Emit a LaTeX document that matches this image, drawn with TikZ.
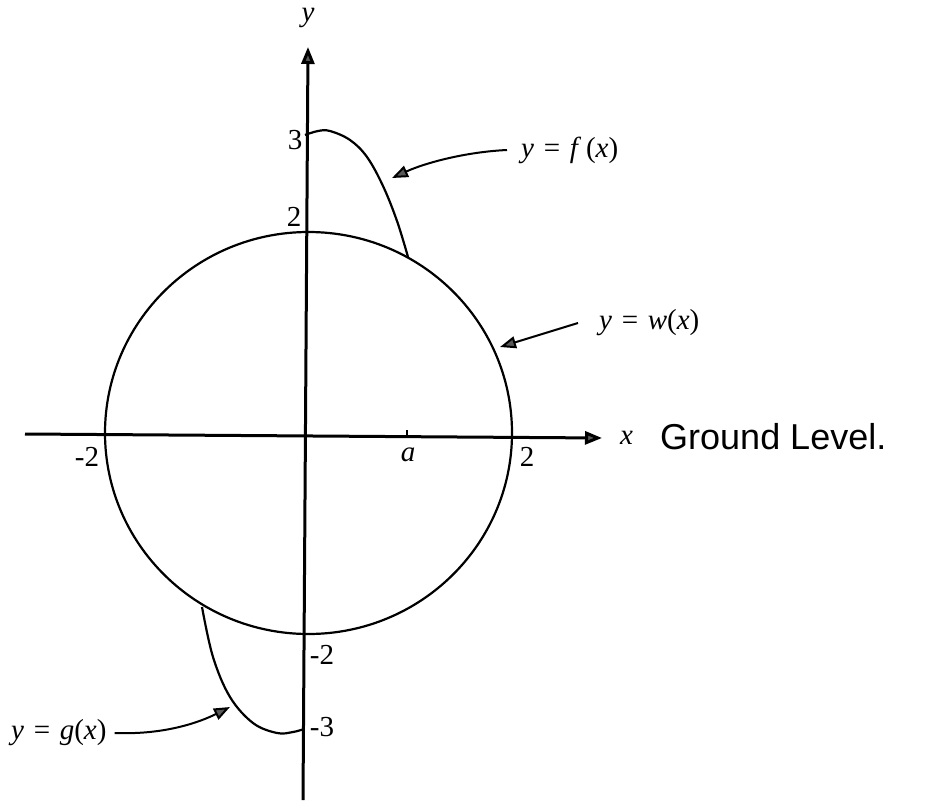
\documentclass[tikz,border=0pt]{standalone}
\usepackage{fontspec}
\setmainfont{Liberation Serif}
\newfontfamily\handfont{Liberation Sans}
\usetikzlibrary{arrows.meta}
\begin{document}
\begin{tikzpicture}[x=1pt,y=-1pt,
  lbl/.style={font=\fontsize{29}{34}\selectfont, inner sep=0pt},
  axisline/.style={line width=3pt, -{Triangle[length=17pt,width=13pt,fill=black!65]}},
  curveline/.style={line width=2.2pt},
  ptr/.style={line width=2pt, -{Triangle[length=16pt,width=12pt,fill=black!65]}},
]
\useasboundingbox (0,0) rectangle (941,802);
% axes
\coordinate (xs) at (25,434);
\coordinate (xe) at (602,438);
\coordinate (ys) at (303,800);
\coordinate (ye) at (308,47);
\draw[axisline] (xs) -- (xe);
\draw[axisline] (ys) -- (ye);
% tick at a
\coordinate (ta) at (407,437);
\coordinate (tb) at (407,430);
\draw[line width=1.8pt] (ta) -- (tb);
% circle y = w(x)
\draw[curveline] (308.5,433) ellipse [x radius=203.5pt, y radius=201pt];
% f curve
\draw[curveline] plot[smooth, tension=0.6] coordinates {(305,135) (318,131) (330,131) (350,140) (367,157) (383,186) (397,221) (408,257)};
% g curve
\draw[curveline] plot[smooth, tension=0.6] coordinates {(202,607) (213,657) (230,697) (253,723) (277,733) (293,732) (304,729)};
% labels
\node[lbl] (ylab) at (308,18) {\textit{y}};
\node[lbl, anchor=west] (xlab) at (620,438) {\textit{x}};
\node[lbl] (l3) at (295,140) {3};
\node[lbl] (l2) at (294,217) {2};
\node[lbl] (lm2) at (322,655) {-2};
\node[lbl] (lm3) at (322,727) {-3};
\node[lbl] (lxm2) at (87,457) {-2};
\node[lbl] (la) at (408,455) {\textit{a}};
\node[lbl] (lx2) at (527,457) {2};
\node[font=\handfont\fontsize{36}{40}\selectfont, inner sep=0pt, anchor=west] (ground) at (660,437) {Ground Level.};
% function labels
\node[lbl, anchor=west] (fL) at (521,150) {\textit{y}\,\,=\,\,\textit{f}\,(\textit{x})};
\node[lbl, anchor=west] (wL) at (599,323) {\textit{y}\,\,=\,\,\textit{w}(\textit{x})};
\node[lbl, anchor=west] (gL) at (11,733) {\textit{y}\,\,=\,\,\textit{g}(\textit{x})};
% pointers
\coordinate (ftip) at (392,178);
\coordinate (wtip) at (500,347);
\coordinate (gtip) at (230,707);
\draw[ptr] ([xshift=-14pt]fL.west) .. controls (465,152) and (425,163) .. (ftip);
\draw[ptr] ([xshift=-21pt]wL.west) -- (wtip);
\draw[ptr] ([xshift=8pt]gL.east) .. controls (165,735) and (200,722) .. (gtip);
\end{tikzpicture}
\end{document}
